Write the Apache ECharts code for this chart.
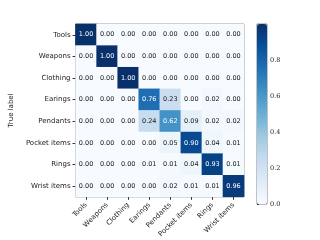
<!DOCTYPE html>
<html><head><meta charset="utf-8">
<script src="https://cdn.jsdelivr.net/npm/echarts@6/dist/echarts.min.js"></script>
<style>html,body{margin:0;padding:0;background:#fff}#c{width:320px;height:240px}</style>
</head><body><div id="c"></div>
<script>
var categories = ['Tools','Weapons','Clothing','Earings','Pendants','Pocket items','Rings','Wrist items'];
var rowTools    = [1.00,0.00,0.00,0.00,0.00,0.00,0.00,0.00];
var rowWeapons  = [0.00,1.00,0.00,0.00,0.00,0.00,0.00,0.00];
var rowClothing = [0.00,0.00,1.00,0.00,0.00,0.00,0.00,0.00];
var rowEarings  = [0.00,0.00,0.00,0.76,0.23,0.00,0.02,0.00];
var rowPendants = [0.00,0.00,0.00,0.24,0.62,0.09,0.02,0.02];
var rowPocket   = [0.00,0.00,0.00,0.00,0.05,0.90,0.04,0.01];
var rowRings    = [0.00,0.00,0.00,0.01,0.01,0.04,0.93,0.01];
var rowWrist    = [0.00,0.00,0.00,0.00,0.02,0.01,0.01,0.96];
var colorbarTicks = [0.0,0.2,0.4,0.6,0.8];

var rows = [rowTools,rowWeapons,rowClothing,rowEarings,rowPendants,rowPocket,rowRings,rowWrist];
var blues = ['#f7fbff','#deebf7','#c6dbef','#9ecae1','#6baed6','#4292c6','#2171b5','#08519c','#08306b'];
var data = [];
rows.forEach(function(r, yi){
  r.forEach(function(v, xi){
    data.push({value:[xi, yi, v], label:{color: v > 0.5 ? '#ffffff' : '#1a1a1a'}});
  });
});
var font = 'DejaVu Sans';
var chart = echarts.init(document.getElementById('c'), null, {renderer:'canvas'});
chart.setOption({
  animation:false,
  grid:[
    {left:63, top:24, width:181, height:180, show:true, borderColor:'#666', borderWidth:0.8, backgroundColor:'transparent'},
    {left:257, top:24, width:10, height:180, show:true, borderColor:'#666', borderWidth:0.8, backgroundColor:'transparent'}
  ],
  xAxis:[
    {type:'category', gridIndex:0, data:categories, position:'bottom',
     axisLine:{show:false}, splitLine:{show:false},
     axisTick:{show:true, alignWithLabel:true, length:3, lineStyle:{color:'#333'}},
     axisLabel:{rotate:45, fontSize:7, fontFamily:font, color:'#222', margin:7, interval:0}},
    {type:'value', gridIndex:1, show:false, min:0, max:1}
  ],
  yAxis:[
    {type:'category', gridIndex:0, data:categories, inverse:true,
     axisLine:{show:false}, splitLine:{show:false},
     axisTick:{show:true, alignWithLabel:true, length:3, lineStyle:{color:'#333'}},
     axisLabel:{fontSize:7, fontFamily:font, color:'#222', margin:5, interval:0},
     name:'True label', nameLocation:'middle', nameGap:44, nameRotate:90,
     nameTextStyle:{fontSize:7, fontFamily:font, color:'#222'}},
    {type:'value', gridIndex:1, position:'right', min:0, max:0.999, interval:0.2,
     axisLine:{show:false}, splitLine:{show:false},
     axisTick:{show:true, length:2, lineStyle:{color:'#333'}},
     axisLabel:{showMaxLabel:false, fontSize:6.5, fontFamily:'DejaVu Serif', color:'#222', margin:3,
       formatter:function(v){return v.toFixed(1);}}}
  ],
  visualMap:{
    type:'continuous', min:0, max:1, calculable:false, show:true,
    left:257, top:24, itemWidth:10, itemHeight:180, padding:0,
    text:null, showLabel:false, seriesIndex:0,
    inRange:{color:blues}
  },
  series:[{
    type:'heatmap', xAxisIndex:0, yAxisIndex:0, data:data,
    itemStyle:{borderWidth:0},
    label:{show:true, fontSize:6.5, fontFamily:font, formatter:function(p){return p.value[2].toFixed(2);}},
    emphasis:{disabled:true}
  }]
});
</script></body></html>
